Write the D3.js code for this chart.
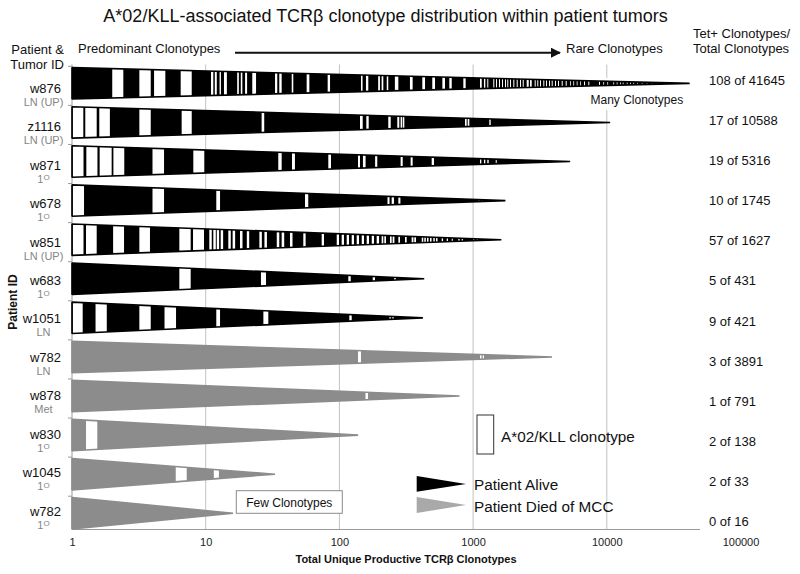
<!DOCTYPE html>
<html><head><meta charset="utf-8">
<script src="https://cdn.jsdelivr.net/npm/d3@7"></script>
<style>
body{margin:0;background:#fff}
text{font-family:"Liberation Sans",Arial,sans-serif}
</style>
</head><body>
<svg id="c" width="800" height="574"></svg>
<script>
// ---------------- DATA ----------------
const patientIds = ["w876","z1116","w871","w678","w851","w683","w1051","w782","w878","w830","w1045","w782"];
const tumorSites = ["LN (UP)","LN (UP)","1°","1°","LN (UP)","1°","LN","LN","Met","1°","1°","1°"];
const outcome = ["alive","alive","alive","alive","alive","alive","alive","died","died","died","died","died"];
const tetPlusClonotypes = [108,17,19,10,57,5,9,3,1,2,2,0];
const totalClonotypes = [41645,10588,5316,1745,1627,431,421,3891,791,138,33,16];
const xTickValues = [1,10,100,1000,10000,100000];
const gridValues = [10,100,1000,10000];

// A*02/KLL clonotype stripes: [start, end] on the clonotype axis
const stripesW876 = [[2.0,2.42],[3.19,3.88],[4.11,4.99],[6.5,7.86],[10.96,11.4],[11.7,12.1],[12.7,13.0],[13.7,14.4],[17.2,17.7],[18.3,18.8],[19.7,20.4],[22.3,23.8],[33.0,34.3],[35.5,37.0],[44.0,45.2],[56.9,59.6],[81.7,85.1],[145,149],[158,164.5],[195,201],[207,213],[226,232],[260,276],[337,353],[417,437],[495,519],[589,616],[664,692],[845,880],[1126,1160],[1206,1234],[1277,1299],[1416,1441],[1484,1510],[1562,1589],[1645,1674],[1732,1762],[1802,1833],[1888,1921],[1999,2034],[2119,2156],[2243,2282],[2350,2391],[2517,2606],[2665,2744],[2888,2938],[3021,3073],[3165,3220],[3351,3409],[3511,3572],[3696,3760],[3871,3938],[4099,4170],[4315,4390],[4599,4679],[4927,5013],[5306,5370],[5617,5684],[5957,6020],[6304,6380],[6754,6872],[7273,7400],[8745,8897],[9415,9530],[10090,10210],[11190,11330],[11860,12000],[12550,12700],[13150,13310],[14090,14260],[14910,15090],[15790,15980],[16910,17120],[18240,18460],[19880,20120],[21670,21930],[23620,23910]];
const stripesZ1116 = [[1.012,1.215],[1.257,1.53],[1.60,1.92],[3.19,3.88],[6.61,7.86],[26.2,27.4],[142.6,149.4],[159,165.6],[232,242],[271,280.5],[287,294],[297.5,306],[870,895],[911,937],[1322,1354]];
const stripesW871 = [[1.012,1.219],[1.28,1.55],[1.61,1.98],[2.04,2.46],[4.0,4.88],[8.08,9.76],[34.9,37.0],[44.2,46.5],[82.6,86.5],[137.8,142.6],[150,157],[185,192],[287,297.5],[341,353],[490,510],[1126,1152],[1206,1234],[1277,1308],[1476,1502]];
const stripesW678 = [[1.012,1.23],[4.0,4.88],[12.0,12.8],[55.3,58.5],[229,237],[246,256],[276,286],[1097,1122],[1160,1186],[1213,1238]];
const stripesW851 = [[1.012,1.219],[1.273,1.53],[2.03,2.45],[3.19,3.83],[6.35,7.72],[8.04,9.71],[10.64,11.1],[11.4,11.9],[12.1,12.6],[12.95,13.5],[14.76,15.4],[15.9,16.6],[18.05,18.85],[20.3,21.15],[25.2,26.3],[27.5,28.7],[34.0,35.5],[37.0,38.65],[42.7,44.6],[53.7,55.9],[73.7,76.7],[95.5,99.3],[104,108.2],[113.4,118],[123.6,128.6],[134.7,140.2],[146.9,152.8],[160,166.5],[174.5,181.5],[190,198],[207,213],[216.7,223],[239,246],[250,258],[276,284],[309.5,318.7],[347,358],[363,374],[413,424],[431.5,443],[452,464],[476,489],[504,517],[528,542],[582,596],[635,649],[692,705],[775,793],[822,840],[1003,1021],[1064,1082],[1338,1361]];
const stripesW683 = [[6.35,7.72],[25.9,28.25],[116.6,121.5],[177.5,184.6],[256,265]];
const stripesW1051 = [[1.012,1.202],[1.50,1.82],[3.19,3.88],[4.92,6.0],[12.0,12.8],[27.0,29.4],[118.6,123.6],[236,243],[247,256]];
const stripesW782LN = [[137.8,145],[1126,1156],[1180,1206]];
const stripesW878 = [[156.7,163.7]];
const stripesW830 = [[1.273,1.546],[104,107]];
const stripesW1045 = [[5.97,7.21],[11.5,12.55]];
const stripesW782P = [];
const stripes = [stripesW876,stripesZ1116,stripesW871,stripesW678,stripesW851,stripesW683,stripesW1051,stripesW782LN,stripesW878,stripesW830,stripesW1045,stripesW782P];

// ---------------- CHART ----------------
const svg = d3.select("#c");
const colors = {alive:"#000000", died:"#8c8c8c"};
const x = d3.scaleLog().domain([1,100000]).range([72,740.5]);
const rows = d3.range(patientIds.length);
const y = d3.scaleBand().domain(rows).range([63.8,532.8]);
const labelY = d3.scalePoint().domain(rows).range([92.7,515.8]);
const rightY = d3.scalePoint().domain(rows).range([85,526]);
const halfH = 15.7;
const plotTop = 64.5, axisY = 529.5, axisRight = 700;

// title
svg.append("text").attr("x",385.5).attr("y",21.5).attr("text-anchor","middle")
  .attr("font-size",18).attr("fill","#111")
  .text("A*02/KLL-associated TCRβ clonotype distribution within patient tumors");

// grid lines
svg.append("g").selectAll("line").data(gridValues).join("line")
  .attr("x1",d=>x(d)).attr("x2",d=>x(d)).attr("y1",plotTop).attr("y2",axisY)
  .attr("stroke","#c2c2c2").attr("stroke-width",1);

// white text box behind "Many Clonotypes"
svg.append("rect").attr("x",586).attr("y",78).attr("width",110).attr("height",32).attr("fill","#fff");

// x axis
const xAxis = d3.axisBottom(x).tickValues(xTickValues).tickSize(0).tickPadding(9).tickFormat(d3.format("d"));
const gx = svg.append("g").attr("transform",`translate(0,${axisY})`).call(xAxis);
gx.select(".domain").remove();
gx.selectAll("text").attr("font-size",11).attr("fill","#222").attr("font-family","Liberation Sans, Arial, sans-serif");
svg.append("line").attr("x1",x(1)).attr("x2",axisRight).attr("y1",axisY).attr("y2",axisY).attr("stroke","#9a9a9a");

// y axis line & ticks
svg.append("line").attr("x1",x(1)).attr("x2",x(1)).attr("y1",plotTop).attr("y2",axisY).attr("stroke","#9a9a9a");
svg.append("g").selectAll("line").data(rows).join("line")
  .attr("x1",x(1)-4).attr("x2",x(1)).attr("y1",d=>y(d)+2.5).attr("y2",d=>y(d)+2.5)
  .attr("stroke","#9a9a9a");

// rows
const defs = svg.append("defs");
function triPath(i){
  const c = y(i)+y.bandwidth()/2;
  return `M${x(1)},${c-halfH}L${x(totalClonotypes[i])},${c}L${x(1)},${c+halfH}Z`;
}
rows.forEach(i=>{
  defs.append("clipPath").attr("id","clip"+i).append("path").attr("d",triPath(i));
});
const rowG = svg.append("g").selectAll("g").data(rows).join("g");
rowG.append("path").attr("d",d=>triPath(d)).attr("fill",d=>colors[outcome[d]]);
rowG.append("g").attr("clip-path",d=>`url(#clip${d})`)
  .selectAll("rect").data(d=>stripes[d].map(s=>({row:d,s}))).join("rect")
  .attr("x",d=>x(d.s[0])).attr("width",d=>Math.max(0.8,x(d.s[1])-x(d.s[0])))
  .attr("y",d=>y(d.row)).attr("height",y.bandwidth()).attr("fill","#fff");
rowG.append("path").attr("d",d=>triPath(d)).attr("fill","none")
  .attr("stroke",d=>colors[outcome[d]]).attr("stroke-width",1.6).attr("stroke-linejoin","bevel");

// left labels
const lab = svg.append("g");
rows.forEach(i=>{
  lab.append("text").attr("x",61).attr("y",labelY(i)).attr("text-anchor","end")
    .attr("font-size",13).attr("fill","#111").text(patientIds[i]);
  const t = lab.append("text").attr("x",43.5).attr("y",labelY(i)+13).attr("text-anchor","middle")
    .attr("font-size",11).attr("fill","#858585");
  if (tumorSites[i]==="1°"){
    t.append("tspan").text("1");
    t.append("tspan").attr("font-size",8).attr("dy",-2.5).text("O");
  } else t.text(tumorSites[i]);
});

// right labels
svg.append("g").selectAll("text").data(rows).join("text")
  .attr("x",709).attr("y",d=>rightY(d)).attr("font-size",13).attr("fill","#111")
  .text(d=>`${tetPlusClonotypes[d]} of ${totalClonotypes[d]}`);

// header texts
svg.append("text").attr("x",64).attr("y",54).attr("text-anchor","end").attr("font-size",13).attr("fill","#111").text("Patient &");
svg.append("text").attr("x",64).attr("y",69).attr("text-anchor","end").attr("font-size",13).attr("fill","#111").text("Tumor ID");
svg.append("text").attr("x",78).attr("y",52.5).attr("font-size",13).attr("fill","#111").text("Predominant Clonotypes");
svg.append("text").attr("x",566).attr("y",53).attr("font-size",13).attr("fill","#111").text("Rare Clonotypes");
svg.append("text").attr("x",693).attr("y",37.5).attr("font-size",13).attr("fill","#111").text("Tet+ Clonotypes/");
svg.append("text").attr("x",693).attr("y",53).attr("font-size",13).attr("fill","#111").text("Total Clonotypes");
defs.append("marker").attr("id","arr").attr("viewBox","0 0 10 10").attr("refX",9).attr("refY",5)
  .attr("markerWidth",5).attr("markerHeight",5).attr("orient","auto")
  .append("path").attr("d","M0,0L10,5L0,10Z").attr("fill","#111");
svg.append("line").attr("x1",235).attr("x2",560).attr("y1",52.7).attr("y2",52.7)
  .attr("stroke","#111").attr("stroke-width",2).attr("marker-end","url(#arr)");

svg.append("text").attr("x",590.5).attr("y",104).attr("font-size",12).attr("fill","#111").text("Many Clonotypes");

// few clonotypes box
svg.append("rect").attr("x",236.3).attr("y",490.7).attr("width",106).attr("height",22.6)
  .attr("fill","#fff").attr("stroke","#8a8a8a");
svg.append("text").attr("x",289.3).attr("y",506.5).attr("text-anchor","middle").attr("font-size",12).attr("fill","#111").text("Few Clonotypes");

// legend
svg.append("rect").attr("x",477).attr("y",415).attr("width",16.7).attr("height",39)
  .attr("fill","#fff").attr("stroke","#333").attr("stroke-width",1);
svg.append("text").attr("x",501).attr("y",441.5).attr("font-size",15.3).attr("fill","#111").text("A*02/KLL clonotype");
svg.append("path").attr("d","M416.7,476L466,484L416.7,491.7Z").attr("fill","#000");
svg.append("text").attr("x",474).attr("y",490).attr("font-size",15.3).attr("fill","#111").text("Patient Alive");
svg.append("path").attr("d","M416.7,497L466,505L416.7,513Z").attr("fill","#a9a9a9");
svg.append("text").attr("x",474).attr("y",511.5).attr("font-size",15.3).attr("fill","#111").text("Patient Died of MCC");

// axis titles
svg.append("text").attr("x",406).attr("y",563).attr("text-anchor","middle").attr("font-size",11)
  .attr("font-weight","bold").attr("fill","#111").text("Total Unique Productive TCRβ Clonotypes");
svg.append("text").attr("transform","translate(16.5,302) rotate(-90)").attr("text-anchor","middle")
  .attr("font-size",12).attr("font-weight","bold").attr("fill","#111").text("Patient ID");
</script>
</body></html>
